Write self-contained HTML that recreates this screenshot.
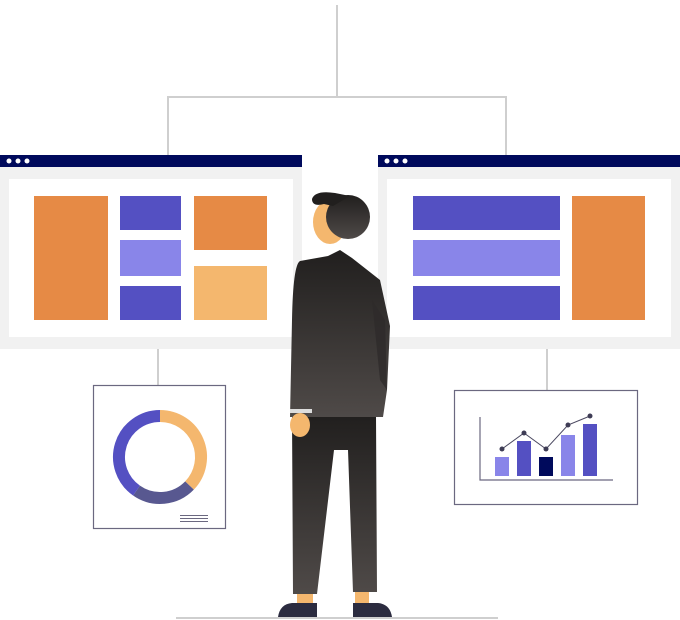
<!DOCTYPE html>
<html><head><style>html,body{margin:0;padding:0;background:#fff;width:680px;height:620px;overflow:hidden}</style></head>
<body>
<svg width="680" height="620" viewBox="0 0 680 620" xmlns="http://www.w3.org/2000/svg">
<defs>
<linearGradient id="g" x1="0" y1="0" x2="0" y2="1"><stop offset="0" stop-color="#211f1e"/><stop offset="1" stop-color="#4f4a48"/></linearGradient>
</defs>
<g stroke="#cfcfcf" stroke-width="2" fill="none">
<path d="M337 5V97M168 155V97H506V155M158 349V385M547 349V390"/>
<path d="M176 618H498"/>
</g>
<rect x="0" y="155" width="302" height="194" fill="#f1f1f1"/>
<rect x="0" y="155" width="302" height="12" fill="#000a5c"/>
<circle cx="9" cy="161" r="2.5" fill="#fff"/><circle cx="18" cy="161" r="2.5" fill="#fff"/><circle cx="27" cy="161" r="2.5" fill="#fff"/>
<rect x="9" y="179" width="284" height="158" fill="#fff"/>
<rect x="34" y="196" width="74" height="124" fill="#e68a45"/>
<rect x="120" y="196" width="61" height="34" fill="#5450c2"/>
<rect x="120" y="240" width="61" height="36" fill="#8985e9"/>
<rect x="120" y="286" width="61" height="34" fill="#5450c2"/>
<rect x="194" y="196" width="73" height="54" fill="#e68a45"/>
<rect x="194" y="266" width="73" height="54" fill="#f4b76e"/>
<rect x="378" y="155" width="302" height="194" fill="#f1f1f1"/>
<rect x="378" y="155" width="302" height="12" fill="#000a5c"/>
<circle cx="387" cy="161" r="2.5" fill="#fff"/><circle cx="396" cy="161" r="2.5" fill="#fff"/><circle cx="405" cy="161" r="2.5" fill="#fff"/>
<rect x="387" y="179" width="284" height="158" fill="#fff"/>
<rect x="413" y="196" width="147" height="34" fill="#5450c2"/>
<rect x="413" y="240" width="147" height="36" fill="#8985e9"/>
<rect x="413" y="286" width="147" height="34" fill="#5450c2"/>
<rect x="572" y="196" width="73" height="124" fill="#e68a45"/>
<rect x="93.5" y="385.5" width="132" height="143" fill="#fff" stroke="#6b6880" stroke-width="1.2"/>
<g fill="none" stroke-width="12">
<path d="M160 416 A41 41 0 0 1 189.5 485.5" stroke="#f4b76e"/>
<path d="M189.5 485.5 A41 41 0 0 1 136.5 490.6" stroke="#585890"/>
<path d="M136.5 490.6 A41 41 0 0 1 160 416" stroke="#5450c2"/>
</g>
<g stroke="#6b6880" stroke-width="1"><path d="M180 515.5H208M180 518.5H208M180 521.5H208"/></g>
<rect x="454.5" y="390.5" width="183" height="114" fill="#fff" stroke="#6b6880" stroke-width="1.2"/>
<path d="M480 417V480H613" fill="none" stroke="#6b6880" stroke-width="1.2"/>
<rect x="495" y="457" width="14" height="19" fill="#8985e9"/>
<rect x="517" y="441" width="14" height="35" fill="#5450c2"/>
<rect x="539" y="457" width="14" height="19" fill="#000a5c"/>
<rect x="561" y="435" width="14" height="41" fill="#8985e9"/>
<rect x="583" y="424" width="14" height="52" fill="#5450c2"/>
<polyline points="502,449 524,433 546,449 568,425 590,416" fill="none" stroke="#4a4860" stroke-width="1"/>
<g fill="#3e3c55"><circle cx="502" cy="449" r="2.5"/><circle cx="524" cy="433" r="2.5"/><circle cx="546" cy="449" r="2.5"/><circle cx="568" cy="425" r="2.5"/><circle cx="590" cy="416" r="2.5"/></g>
<rect x="297" y="585" width="16" height="20" fill="#f4b76e"/>
<rect x="355" y="585" width="14" height="20" fill="#f4b76e"/>
<path d="M278 617 Q280 604 292 603 H317 V617Z" fill="#2c2c40"/>
<path d="M353 617 V603 H378 Q390 604 392 617Z" fill="#2c2c40"/>
<path d="M292 415 H376 L377 592 H353 L348 450 L334 450 L317 594 H293Z" fill="url(#g)"/>
<path d="M300 261 L328 256 L340 250 L352 258 L380 280 L390 326 L387 390 L383 417 H290 L292 320 Q293 265 300 261Z" fill="url(#g)"/>
<path d="M372 300 L385 320 L387 390 L380 380Z" fill="#2e2b2a" opacity="0.8"/>
<rect x="290" y="409" width="22" height="4" fill="#ddd"/>
<ellipse cx="300" cy="425" rx="10" ry="12" fill="#f4b76e"/>
<ellipse cx="330" cy="222" rx="17" ry="22" fill="#f4b76e"/>
<circle cx="348" cy="217" r="22" fill="url(#g)"/>
<path d="M312 199 Q315 190 335 193 L350 196 L333 206 L324 204 Q312 207 312 199Z" fill="#211f1e"/>
</svg>
</body></html>
